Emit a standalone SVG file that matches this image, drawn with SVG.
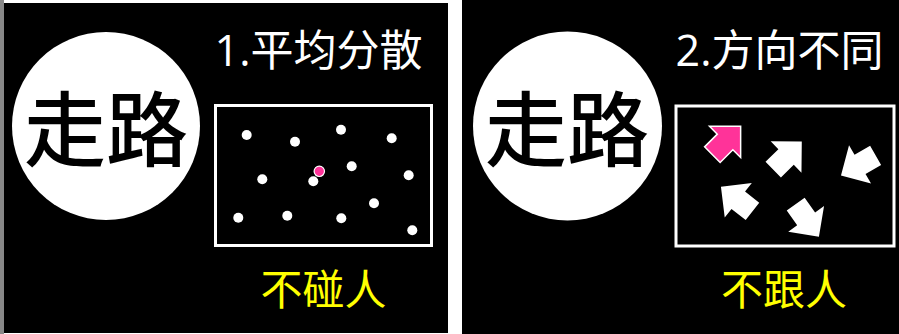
<svg xmlns="http://www.w3.org/2000/svg" width="899" height="334" viewBox="0 0 899 334">
<style>
.panel{fill:#000}
.circ{fill:#fff}
.big{font-family:"Noto Sans CJK SC","Noto Sans CJK TC",sans-serif;font-weight:500;font-size:82px;fill:#000;text-anchor:middle}
.title{font-family:"Open Sans","Noto Sans CJK SC",sans-serif;font-size:43px;fill:#fff;text-anchor:middle}
.note{font-family:"Noto Sans CJK SC","Noto Sans CJK TC",sans-serif;font-size:42px;fill:#ffff00;text-anchor:middle}
.box{fill:none;stroke:#fff;stroke-width:3}
.dot{fill:#fff}
.pinkdot{fill:#ff3399;stroke:#fff;stroke-width:1.2}
.arrow{fill:#fff}
.parrow{fill:#ff3399;stroke:#fff;stroke-width:1.5;stroke-linejoin:miter}
</style>
<defs>
<path id="arr" d="M0,-20 L22,2 L11,2 L11,20 L-11,20 L-11,2 L-22,2 Z"/>
</defs>
<rect x="0" y="0" width="899" height="334" fill="#fff"/>
<g id="panel-left">
<rect x="0" y="0" width="4" height="334" fill="#888"/>
<rect class="panel" x="4" y="3" width="444" height="330"/>
<circle class="circ" cx="106" cy="126" r="94"/>
<text class="big" x="106" y="160">走路</text>
<text class="title" x="318.5" y="65.5">1.平均分散</text>
<rect class="box" x="215.5" y="105.5" width="216" height="140"/>
<g id="dots">
<circle class="dot" cx="246.7" cy="135" r="5"/>
<circle class="dot" cx="295" cy="141.7" r="5"/>
<circle class="dot" cx="341" cy="129.7" r="5"/>
<circle class="dot" cx="391.7" cy="138.3" r="5"/>
<circle class="dot" cx="262.3" cy="179.3" r="5"/>
<circle class="dot" cx="313.3" cy="181.3" r="5"/>
<circle class="dot" cx="351.7" cy="166.3" r="5"/>
<circle class="dot" cx="408.7" cy="175.3" r="5"/>
<circle class="dot" cx="374" cy="203.3" r="5"/>
<circle class="dot" cx="238.3" cy="217.7" r="5"/>
<circle class="dot" cx="287.3" cy="215.7" r="5"/>
<circle class="dot" cx="341.3" cy="218.3" r="5"/>
<circle class="dot" cx="412.3" cy="230.3" r="5"/>
<circle class="pinkdot" cx="319.3" cy="171.3" r="5.2"/>
</g>
<text class="note" x="323.5" y="305">不碰人</text>
</g>
<g id="panel-right">
<rect class="panel" x="462" y="0" width="437" height="334"/>
<circle class="circ" cx="567.5" cy="126" r="94.5"/>
<text class="big" x="567" y="160">走路</text>
<text class="title" x="779.5" y="65.5">2.方向不同</text>
<rect class="box" x="676" y="106" width="218" height="140"/>
<g id="arrows">
<use href="#arr" class="parrow" transform="translate(726.5,140.5) rotate(45)"/>
<use href="#arr" class="arrow" transform="translate(787.5,155.6) rotate(45.6)"/>
<use href="#arr" class="arrow" transform="translate(858.3,165.4) rotate(-120)"/>
<use href="#arr" class="arrow" transform="translate(736.7,199) rotate(-52)"/>
<use href="#arr" class="arrow" transform="translate(807.3,220.5) rotate(144.5)"/>
</g>
<text class="note" x="784" y="305">不跟人</text>
</g>
</svg>
